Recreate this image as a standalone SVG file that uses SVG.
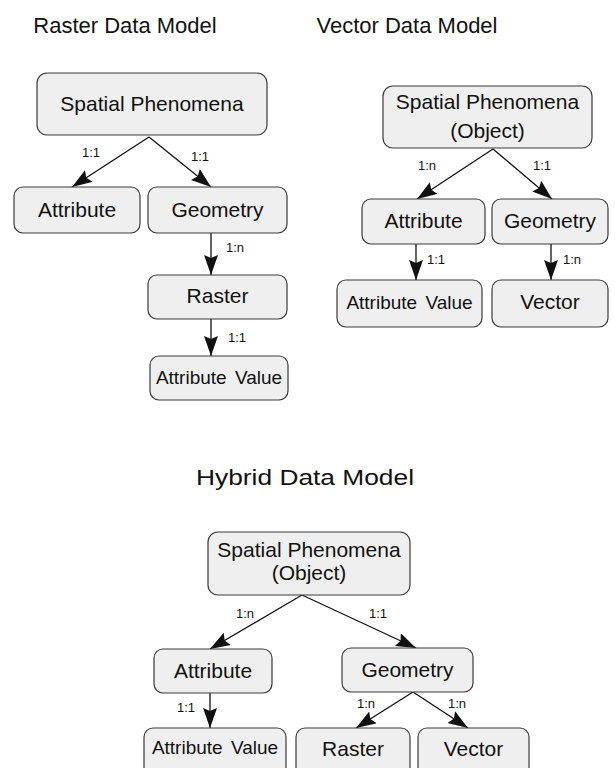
<svg xmlns="http://www.w3.org/2000/svg" width="615" height="771" viewBox="0 0 615 771">
<style>
.box{fill:#efefef;stroke:#3a3a3a;stroke-width:1.2}
.t{font-family:"Liberation Sans",Arial,sans-serif;font-size:21px;fill:#111;text-anchor:middle}
.tv{font-family:"Liberation Sans",Arial,sans-serif;font-size:19px;fill:#111;text-anchor:middle;word-spacing:3px}
.title{font-family:"Liberation Sans",Arial,sans-serif;font-size:22px;fill:#111;text-anchor:middle}
.lb{font-family:"Liberation Sans",Arial,sans-serif;font-size:13px;fill:#111;text-anchor:middle}
.c{stroke:#111;stroke-width:1.3;fill:none;marker-end:url(#ah)}
</style>
<defs>
<marker id="ah" markerUnits="userSpaceOnUse" markerWidth="22" markerHeight="16" refX="20" refY="7" orient="auto">
<path d="M0,0 L20,7 L0,14 L3,7 z" fill="#111"/>
</marker>
<clipPath id="cut"><rect x="0" y="0" width="615" height="768"/></clipPath>
</defs>
<rect width="615" height="771" fill="#fff"/>
<g id="titles">
<text class="title" x="125" y="33">Raster Data Model</text>
<text class="title" x="407" y="33">Vector Data Model</text>
<text class="title" x="305" y="485" textLength="218" lengthAdjust="spacingAndGlyphs">Hybrid Data Model</text>
</g>
<g id="connectors">
<line class="c" x1="149" y1="137" x2="72" y2="187"/>
<line class="c" x1="149" y1="137" x2="211" y2="187"/>
<line class="c" x1="211" y1="233" x2="211" y2="275"/>
<line class="c" x1="211" y1="319" x2="211" y2="356"/>
<line class="c" x1="493" y1="149" x2="417" y2="199"/>
<line class="c" x1="493" y1="149" x2="552" y2="199"/>
<line class="c" x1="416" y1="244" x2="416" y2="280"/>
<line class="c" x1="551" y1="244" x2="551" y2="280"/>
<line class="c" x1="302" y1="595" x2="210" y2="649"/>
<line class="c" x1="302" y1="595" x2="416" y2="648"/>
<line class="c" x1="210" y1="693" x2="210" y2="728"/>
<line class="c" x1="413" y1="692" x2="356" y2="728"/>
<line class="c" x1="413" y1="692" x2="468" y2="728"/>
<text class="lb" x="91" y="157">1:1</text>
<text class="lb" x="200" y="161">1:1</text>
<text class="lb" x="235" y="252">1:n</text>
<text class="lb" x="237" y="342">1:1</text>
<text class="lb" x="427" y="170">1:n</text>
<text class="lb" x="542" y="170">1:1</text>
<text class="lb" x="436" y="264">1:1</text>
<text class="lb" x="572" y="264">1:n</text>
<text class="lb" x="245" y="618">1:n</text>
<text class="lb" x="378" y="618">1:1</text>
<text class="lb" x="186" y="712">1:1</text>
<text class="lb" x="366" y="708">1:n</text>
<text class="lb" x="457" y="708">1:n</text>
</g>
<g id="r-sp"><rect class="box" x="37" y="73" width="230" height="62" rx="10"/><text class="t" x="152" y="111">Spatial Phenomena</text></g>
<g id="r-attr"><rect class="box" x="14" y="187" width="126" height="46" rx="9"/><text class="t" x="77" y="217">Attribute</text></g>
<g id="r-geo"><rect class="box" x="148" y="187" width="139" height="46" rx="9"/><text class="t" x="217.5" y="217">Geometry</text></g>
<g id="r-raster"><rect class="box" x="148" y="275" width="139" height="44" rx="9"/><text class="t" x="217.5" y="303">Raster</text></g>
<g id="r-av"><rect class="box" x="150" y="356" width="138" height="44" rx="9"/><text class="tv" x="219" y="384">Attribute Value</text></g>
<g id="v-sp"><rect class="box" x="383" y="86" width="209" height="62" rx="10"/><text class="t" x="487.5" y="109">Spatial Phenomena</text><text class="t" x="487.5" y="138">(Object)</text></g>
<g id="v-attr"><rect class="box" x="362" y="199" width="123" height="45" rx="9"/><text class="t" x="423.5" y="228">Attribute</text></g>
<g id="v-geo"><rect class="box" x="492" y="199" width="116" height="45" rx="9"/><text class="t" x="550" y="228">Geometry</text></g>
<g id="v-av"><rect class="box" x="337" y="280" width="145" height="47" rx="9"/><text class="tv" x="409.5" y="309">Attribute Value</text></g>
<g id="v-vector"><rect class="box" x="492" y="280" width="116" height="47" rx="9"/><text class="t" x="550" y="309">Vector</text></g>
<g id="h-sp"><rect class="box" x="208" y="532" width="202" height="63" rx="10"/><text class="t" x="309" y="557">Spatial Phenomena</text><text class="t" x="309" y="580">(Object)</text></g>
<g id="h-attr"><rect class="box" x="154" y="649" width="118" height="44" rx="9"/><text class="t" x="213" y="678">Attribute</text></g>
<g id="h-geo"><rect class="box" x="342" y="648" width="131" height="44" rx="9"/><text class="t" x="407.5" y="677">Geometry</text></g>
<g clip-path="url(#cut)">
<g id="h-av"><rect class="box" x="144" y="728" width="142" height="60" rx="9"/><text class="tv" x="215" y="754">Attribute Value</text></g>
<g id="h-raster"><rect class="box" x="296" y="728" width="114" height="60" rx="9"/><text class="t" x="353" y="756">Raster</text></g>
<g id="h-vector"><rect class="box" x="418" y="728" width="111" height="60" rx="9"/><text class="t" x="473.5" y="756">Vector</text></g>
</g>
</svg>
